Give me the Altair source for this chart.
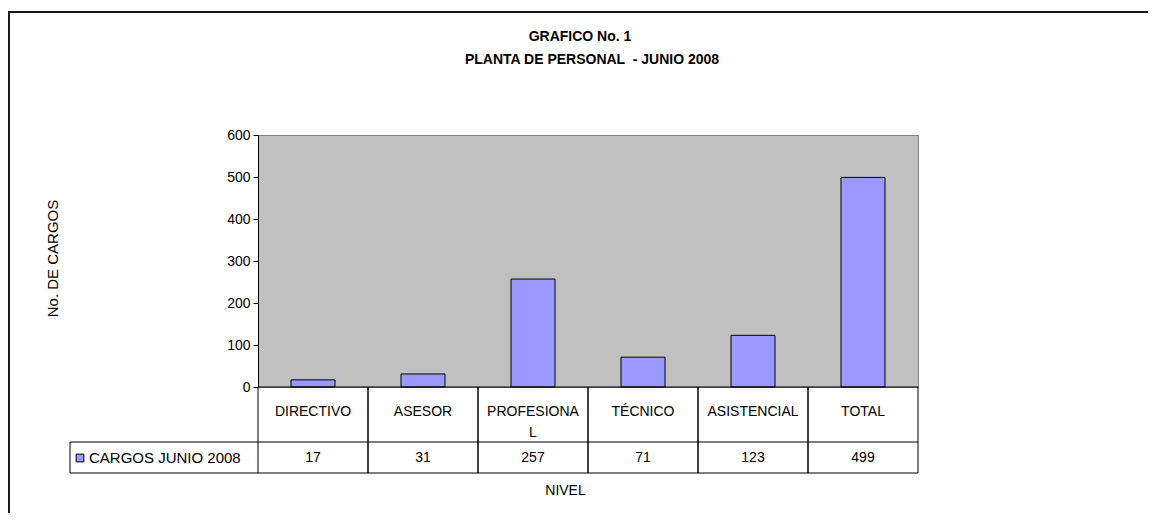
import altair as alt
import pandas as pd

categories = ["DIRECTIVO", "ASESOR", "PROFESIONAL", "TÉCNICO", "ASISTENCIAL", "TOTAL"]
cell_labels = ["DIRECTIVO", "ASESOR", "PROFESIONA\nL", "TÉCNICO", "ASISTENCIAL", "TOTAL"]
values = [17, 31, 257, 71, 123, 499]
series_name = "CARGOS JUNIO 2008"
y_ticks = [0, 100, 200, 300, 400, 500, 600]
title_lines = ["GRAFICO No. 1", "PLANTA DE PERSONAL \u00a0- JUNIO 2008"]

df = pd.DataFrame({"cat": categories, "label": cell_labels, "value": values})
one = pd.DataFrame({"name": [series_name]})
tdf = pd.DataFrame({"t": title_lines, "row": [0, 1]})

FONT = "Liberation Sans, Arial, sans-serif"
W, H = 660, 252
ROW1 = 307   # bottom of category row (px below plot top)
ROW2 = 338   # bottom of value row
LEFT = -188  # left edge of legend cell

xscale = alt.Scale(domain=categories, paddingInner=0, paddingOuter=0)
xaxis = alt.Axis(labels=False, ticks=False, domain=False, grid=False,
                 title="NIVEL", titleFont=FONT, titleFontSize=14,
                 titleFontWeight="normal", titleColor="black", titleY=103,
                 titleX=307, titleAlign="center", titleBaseline="middle")


def xenc(bp=None):
    if bp is None:
        return alt.X("cat:N", sort=categories, scale=xscale, axis=xaxis)
    return alt.X("cat:N", sort=categories, scale=xscale, axis=xaxis, bandPosition=bp)


base = alt.Chart(df)
deco = alt.Chart(one)

bars = base.mark_bar(color="#9999FF", stroke="black", strokeWidth=1,
                     width=alt.RelativeBandSize(0.4)).encode(
    x=xenc(),
    y=alt.Y("value:Q", scale=alt.Scale(domain=[0, 600], nice=False, zero=True),
            axis=alt.Axis(values=y_ticks, grid=False, title="No. DE CARGOS",
                          labelFont=FONT, labelFontSize=14, labelColor="black",
                          tickColor="black", tickSize=5, labelPadding=3,
                          domainColor="black", titleFont=FONT, titleFontSize=15,
                          titleFontWeight="normal", titleColor="black",
                          titleX=-206, titleY=123, titleAngle=-90,
                          titleAlign="center", titleBaseline="middle")),
)

zero_line = deco.mark_rule(color="black", strokeWidth=1).encode(
    x=alt.value(0), x2=alt.value(W), y=alt.value(H))
row1_line = deco.mark_rule(color="black", strokeWidth=1).encode(
    x=alt.value(LEFT), x2=alt.value(W), y=alt.value(ROW1))
row2_line = deco.mark_rule(color="black", strokeWidth=1).encode(
    x=alt.value(LEFT), x2=alt.value(W), y=alt.value(ROW2))
legend_left = deco.mark_rule(color="black", strokeWidth=1).encode(
    x=alt.value(LEFT), y=alt.value(ROW1), y2=alt.value(ROW2))

vlines = base.mark_rule(color="black", strokeWidth=1).encode(
    x=xenc(0), y=alt.value(H), y2=alt.value(ROW2))
vlines_end = base.mark_rule(color="black", strokeWidth=1).encode(
    x=xenc(1), y=alt.value(H), y2=alt.value(ROW2))

cat_text = base.mark_text(font=FONT, fontSize=14, color="black", lineBreak="\n",
                          lineHeight=21, baseline="middle").encode(
    x=xenc(), y=alt.value(277), text="label:N")
val_text = base.mark_text(font=FONT, fontSize=14, color="black",
                          baseline="middle").encode(
    x=xenc(), y=alt.value(323), text="value:Q")

swatch = deco.mark_point(shape="square", size=60, filled=True, fill="#9999FF",
                         stroke="black", strokeWidth=1, opacity=1).encode(
    x=alt.value(-178), y=alt.value(323))
leg_text = deco.mark_text(font=FONT, fontSize=15, color="black", align="left",
                          baseline="middle").encode(
    x=alt.value(-169), y=alt.value(323), text="name:N")

title1 = alt.Chart(tdf.iloc[[0]]).mark_text(
    font=FONT, fontSize=14, fontWeight="bold", color="black",
    baseline="middle").encode(x=alt.value(322), y=alt.value(-98), text="t:N")
title2 = alt.Chart(tdf.iloc[[1]]).mark_text(
    font=FONT, fontSize=14, fontWeight="bold", color="black",
    baseline="middle").encode(x=alt.value(334), y=alt.value(-75), text="t:N")

border = deco.mark_rect(fillOpacity=0, stroke="#1a1a1a", strokeWidth=2).encode(
    x=alt.value(-249), x2=alt.value(1200), y=alt.value(-123), y2=alt.value(600))

chart = alt.layer(
    bars, zero_line, row1_line, row2_line, legend_left, vlines, vlines_end,
    cat_text, val_text, swatch, leg_text, title1, title2, border
).properties(
    width=W, height=H,
    autosize=alt.AutoSizeParams(type="none"),
    padding={"left": 250, "top": 127, "right": 230, "bottom": 126},
).configure_view(fill="#C0C0C0", stroke="#808080")

chart.save("out.html", embed_options={"renderer": "svg", "actions": False})
